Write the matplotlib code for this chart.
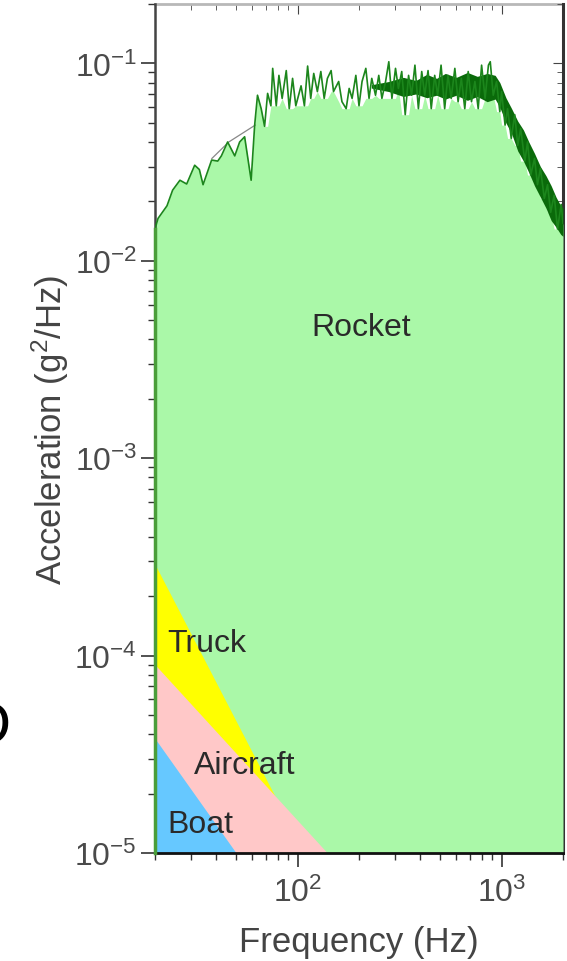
import numpy as np
import matplotlib
matplotlib.use('Agg')
import matplotlib.pyplot as plt

plt.rcParams['font.family'] = ['Liberation Sans', 'DejaVu Sans']
plt.rcParams['mathtext.fontset'] = 'custom'
plt.rcParams['mathtext.rm'] = 'Liberation Sans'
plt.rcParams['mathtext.it'] = 'Liberation Sans:italic'
plt.rcParams['axes.unicode_minus'] = False

# rocket launch random vibration (Hz, g^2/Hz)
rocket_freq = [20, 20.7, 22.9, 24.4, 26.5, 28.6, 31.3, 33, 34.4, 37.9, 40.6, 42.3,
               45.4, 49.2, 52, 55, 59.2, 61.6, 63.6, 66.3, 68.9, 71.3, 74.0, 75.5,
               78.6, 81, 84, 88, 91, 94.5, 98, 104, 108, 112, 116, 120, 125, 130,
               135, 140, 146, 150, 159, 165, 173, 179, 185, 193, 200, 207, 216, 224,
               231, 241, 250, 259, 270, 280, 290, 302, 312, 324, 337, 350, 362, 376,
               391, 406, 420, 436, 452, 470, 486, 505, 526, 546, 566, 590, 612, 635,
               660, 686, 712, 740, 768, 798, 830, 862, 880, 910, 945, 980, 1000,
               1040, 1070, 1115, 1160, 1200, 1240, 1300, 1340, 1390, 1450, 1500,
               1550, 1620, 1680, 1740, 1810, 1880, 1960, 2000]
rocket_psd = [0.0145, 0.0164, 0.019, 0.0228, 0.0256, 0.0245, 0.0305, 0.029, 0.0243,
              0.0324, 0.032, 0.034, 0.040, 0.034, 0.040, 0.0425, 0.0256, 0.0487,
              0.069, 0.059, 0.048, 0.0705, 0.061, 0.0944, 0.061, 0.087, 0.0665,
              0.092, 0.059, 0.084, 0.061, 0.077, 0.061, 0.097, 0.0665, 0.089, 0.072,
              0.091, 0.0665, 0.084, 0.092, 0.072, 0.081, 0.064, 0.059, 0.0747,
              0.0665, 0.087, 0.061, 0.081, 0.0944, 0.0665, 0.084, 0.069, 0.087,
              0.0665, 0.081, 0.102, 0.0665, 0.0944, 0.0747, 0.091, 0.055, 0.087,
              0.069, 0.098, 0.059, 0.091, 0.069, 0.092, 0.059, 0.087, 0.069, 0.098,
              0.059, 0.087, 0.0665, 0.0944, 0.064, 0.084, 0.059, 0.091, 0.064,
              0.081, 0.059, 0.098, 0.0665, 0.098, 0.102, 0.069, 0.081, 0.057, 0.072,
              0.0487, 0.059, 0.0417, 0.055, 0.0385, 0.0468, 0.032, 0.040, 0.0272,
              0.033, 0.0243, 0.0294, 0.0207, 0.0243, 0.0176, 0.0215, 0.0145, 0.0193,
              0.0155]

# dense core of the rocket trace
band_freq = [230, 280, 330, 380, 430, 480, 530, 600, 680, 760, 850, 930, 980, 1050,
             1120, 1200, 1280, 1360, 1450, 1550, 1650, 1750, 1850, 1950, 2000]
band_hi = [0.078, 0.081, 0.085, 0.082, 0.088, 0.084, 0.089, 0.085, 0.090, 0.086, 0.089,
           0.087, 0.080, 0.067, 0.059, 0.051, 0.046, 0.040, 0.035, 0.030, 0.027,
           0.024, 0.021, 0.019, 0.0185]
band_lo = [0.075, 0.072, 0.068, 0.070, 0.067, 0.069, 0.066, 0.069, 0.065, 0.068, 0.064,
           0.066, 0.060, 0.050, 0.044, 0.036, 0.032, 0.028, 0.024, 0.021, 0.0185,
           0.016, 0.0148, 0.0136, 0.0133]

# smoothed trace segment at low frequency
smooth_freq = [38, 46, 62]
smooth_psd = [0.033, 0.040, 0.0487]

# transport profiles
truck_freq = [20, 108]
truck_psd = [2.9e-4, 1e-5]
aircraft_freq = [20, 140]
aircraft_psd = [9e-5, 1e-5]
boat_freq = [20, 50]
boat_psd = [3.8e-5, 1e-5]

ymin, ymax = 1e-5, 0.2
xmin, xmax = 20, 2000

fig = plt.figure(figsize=(5.67, 9.62), dpi=100)
ax = fig.add_axes([155 / 567, 1 - 854 / 962, 408 / 567, 849 / 962])
ax.set_xscale('log')
ax.set_yscale('log')

f = np.array(rocket_freq)
p = np.array(rocket_psd)
# fill under the lower edge of the noisy part
lower = p.copy()
lower[1:-1] = np.minimum(np.minimum(p[:-2], p[1:-1]), p[2:])
fill_top = np.where(f > 70, lower, p)
ax.fill_between(f, ymin, fill_top, color='#aaf8a8', lw=0, zorder=1)
ax.fill_between(band_freq, band_lo, band_hi, color='#0a6a0a', lw=0, zorder=3)
ax.plot(f, p, color='#1c861c', lw=1.2, zorder=3)
ax.plot(smooth_freq, smooth_psd, color='#888888', lw=0.9, zorder=2)

ax.fill_between(truck_freq, ymin, truck_psd, color='#ffff00', lw=0, zorder=2)
ax.fill_between(aircraft_freq, ymin, aircraft_psd, color='#ffc8c8', lw=0, zorder=2)
ax.fill_between(boat_freq, ymin, boat_psd, color='#66c8ff', lw=0, zorder=2)
ax.plot([xmin, xmin], [ymin, rocket_psd[0]], color='#4a9e3a', lw=2.5, zorder=4, clip_on=False)

ax.set_xlim(xmin, xmax)
ax.set_ylim(ymin, ymax)

txt = dict(fontsize=23, color='#2a2a2a', zorder=5)
ax.text(204, 4.6e-3, 'Rocket', ha='center', va='center', **txt)
ax.text(22.9, 1.16e-4, 'Truck', ha='left', va='center', **txt)
ax.text(31, 2.79e-5, 'Aircraft', ha='left', va='center', **txt)
ax.text(22.9, 1.40e-5, 'Boat', ha='left', va='center', **txt)

ax.tick_params(which='both', direction='out', colors='#333333', labelcolor='#4a4a4a',
               labelsize=23, top=False, right=False)
ax.tick_params(which='major', length=10, width=1.2)
ax.tick_params(which='minor', length=5, width=1)
ax.tick_params(axis='x', pad=7)
ax.tick_params(axis='y', pad=3)

# inward ticks on the mirrored sides
top = ax.secondary_xaxis('top')
top.tick_params(which='both', direction='in', labeltop=False, colors='#444444')
top.tick_params(which='major', length=7)
top.tick_params(which='minor', length=4)
right = ax.secondary_yaxis('right')
right.tick_params(which='both', direction='in', labelright=False, colors='#444444')
right.tick_params(which='major', length=7)
right.tick_params(which='minor', length=4)
top.spines['top'].set_color('#b8b8b8')
top.spines['top'].set_linewidth(2)
right.spines['right'].set_color('#333333')
right.spines['right'].set_linewidth(2.2)

ax.spines['left'].set_color('#444444')
ax.spines['left'].set_linewidth(1.8)
ax.spines['bottom'].set_color('#111111')
ax.spines['bottom'].set_linewidth(2)
ax.spines['top'].set_visible(False)
ax.spines['right'].set_visible(False)

ax.set_xlabel('Frequency (Hz)', fontsize=25, color='#444444', labelpad=12)
ax.set_ylabel('Acceleration (g$^2$/Hz)', fontsize=25, color='#444444')
ax.yaxis.set_label_coords(-0.205, 0.5)

# partial panel letter at the left edge
fig.text(0.02, 1 - 728 / 962, 'D', fontsize=44, color='black', ha='right', va='center')

fig.savefig('out.png', dpi=100)
